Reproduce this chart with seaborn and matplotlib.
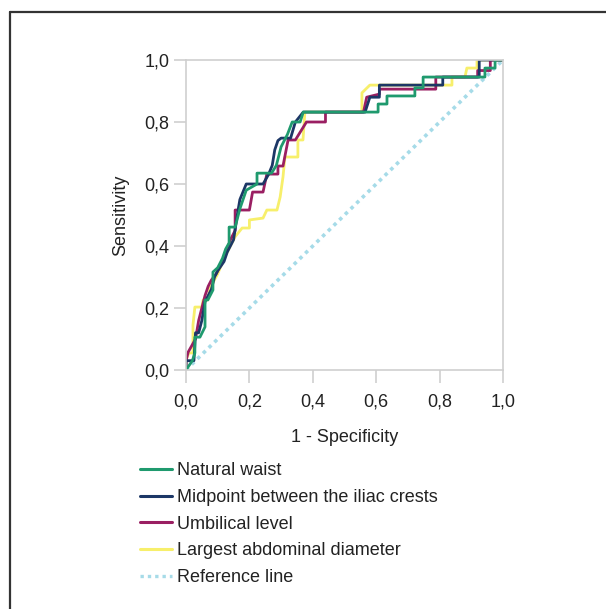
import matplotlib
matplotlib.use("Agg")
import matplotlib.pyplot as plt
import seaborn as sns
import pandas as pd
from matplotlib.lines import Line2D

# ---- data ----
natural_fpr = [0.0, 0.02, 0.028, 0.028, 0.044, 0.06, 0.06, 0.069, 0.085, 0.085, 0.10, 0.115, 0.125, 0.136, 0.136, 0.155, 0.17, 0.19, 0.224, 0.224, 0.27, 0.285, 0.30, 0.32, 0.335, 0.36, 0.37, 0.59, 0.606, 0.606, 0.634, 0.634, 0.722, 0.722, 0.748, 0.748, 0.943, 0.943, 0.975, 0.975, 1.0]
natural_tpr = [0.0, 0.03, 0.055, 0.106, 0.106, 0.139, 0.226, 0.226, 0.258, 0.316, 0.33, 0.36, 0.39, 0.41, 0.461, 0.461, 0.52, 0.58, 0.60, 0.635, 0.635, 0.66, 0.72, 0.76, 0.80, 0.80, 0.832, 0.832, 0.832, 0.858, 0.858, 0.884, 0.884, 0.91, 0.91, 0.945, 0.945, 0.974, 0.974, 1.0, 1.0]

midpoint_fpr = [0.0, 0.0, 0.025, 0.03, 0.04, 0.05, 0.06, 0.08, 0.09, 0.10, 0.12, 0.13, 0.15, 0.165, 0.17, 0.19, 0.243, 0.26, 0.272, 0.28, 0.29, 0.30, 0.33, 0.345, 0.37, 0.565, 0.58, 0.61, 0.61, 0.81, 0.81, 0.925, 0.925, 1.0]
midpoint_tpr = [0.0, 0.03, 0.03, 0.12, 0.12, 0.16, 0.22, 0.26, 0.30, 0.32, 0.35, 0.38, 0.42, 0.52, 0.55, 0.60, 0.60, 0.63, 0.66, 0.71, 0.74, 0.748, 0.748, 0.80, 0.832, 0.832, 0.88, 0.88, 0.919, 0.919, 0.945, 0.945, 1.0, 1.0]

umbilical_fpr = [0.0, 0.0, 0.007, 0.03, 0.04, 0.05, 0.06, 0.07, 0.08, 0.095, 0.105, 0.12, 0.13, 0.14, 0.155, 0.155, 0.20, 0.21, 0.243, 0.255, 0.29, 0.29, 0.306, 0.322, 0.345, 0.38, 0.44, 0.44, 0.56, 0.57, 0.61, 0.61, 0.788, 0.788, 0.88, 0.92, 0.92, 0.96, 0.96, 1.0]
umbilical_tpr = [0.0, 0.03, 0.058, 0.10, 0.16, 0.20, 0.24, 0.27, 0.29, 0.31, 0.33, 0.36, 0.39, 0.42, 0.45, 0.516, 0.516, 0.574, 0.574, 0.632, 0.632, 0.658, 0.658, 0.742, 0.742, 0.80, 0.80, 0.832, 0.832, 0.88, 0.89, 0.906, 0.906, 0.945, 0.945, 0.945, 0.966, 0.966, 1.0, 1.0]

largest_fpr = [0.0, 0.0, 0.009, 0.022, 0.022, 0.028, 0.05, 0.054, 0.069, 0.076, 0.10, 0.12, 0.155, 0.177, 0.20, 0.20, 0.243, 0.255, 0.287, 0.297, 0.306, 0.312, 0.353, 0.353, 0.369, 0.375, 0.555, 0.555, 0.58, 0.839, 0.839, 0.88, 0.886, 0.918, 0.918, 1.0]
largest_tpr = [0.0, 0.032, 0.055, 0.055, 0.145, 0.203, 0.203, 0.226, 0.226, 0.265, 0.31, 0.36, 0.43, 0.458, 0.458, 0.484, 0.49, 0.516, 0.516, 0.558, 0.623, 0.687, 0.687, 0.742, 0.742, 0.832, 0.832, 0.894, 0.919, 0.919, 0.945, 0.945, 0.974, 0.974, 1.0, 1.0]

reference_fpr = [0.0, 1.0]
reference_tpr = [0.0, 1.0]

series_names = ["Natural waist", "Midpoint between the iliac crests",
                "Umbilical level", "Largest abdominal diameter", "Reference line"]
colors = ["#1f9a6e", "#1c3766", "#9a1f62", "#f7ef6b", "#a6dbe8"]

tick_values = [0.0, 0.2, 0.4, 0.6, 0.8, 1.0]
tick_labels = ["0,0", "0,2", "0,4", "0,6", "0,8", "1,0"]

# ---- build long table ----
frames = []
for name, fx, fy in zip(series_names,
                        [natural_fpr, midpoint_fpr, umbilical_fpr, largest_fpr, reference_fpr],
                        [natural_tpr, midpoint_tpr, umbilical_tpr, largest_tpr, reference_tpr]):
    frames.append(pd.DataFrame({"fpr": fx, "tpr": fy, "series": name,
                                "order": range(len(fx))}))
df = pd.concat(frames, ignore_index=True)

sns.set_theme(style="white")
plt.rcParams["font.family"] = ["Liberation Sans", "DejaVu Sans"]

fig = plt.figure(figsize=(6.06, 6.09), dpi=100)
ax = fig.add_axes([186/606, 1-370/609, (503-186)/606, (370-60)/609])

# reference first (drawn beneath)
ref = df[df.series == "Reference line"]
sns.lineplot(data=ref, x="fpr", y="tpr", ax=ax, color=colors[4], lw=2.6,
             linestyle=(0, (1, 1.2)), sort=False, estimator=None, legend=False)
for name, col in zip(series_names[3::-1], colors[3::-1]):
    sub = df[df.series == name]
    sns.lineplot(data=sub, x="fpr", y="tpr", ax=ax, color=col, lw=2.0,
                 sort=False, estimator=None, legend=False)

ax.set_xlim(0, 1)
ax.set_ylim(0, 1)
ax.set_xticks(tick_values)
ax.set_xticklabels(tick_labels)
ax.set_yticks(tick_values)
ax.set_yticklabels(tick_labels)
for s in ax.spines.values():
    s.set_color("#cfcfcf")
    s.set_linewidth(1.2)
ax.tick_params(axis="both", which="major", length=9, width=1.2, color="#cfcfcf",
               labelsize=13, labelcolor="#222222", direction="out",
               bottom=True, left=True)
ax.tick_params(axis="x", pad=8)
ax.tick_params(axis="y", pad=3)
ax.set_xlabel("1 - Specificity", fontsize=13, color="#222222", labelpad=13)
ax.set_ylabel("Sensitivity", fontsize=13, color="#222222", labelpad=11)

handles = [Line2D([0], [0], color=c, lw=2.2) for c in colors[:4]]
handles.append(Line2D([0], [0], color=colors[4], lw=2.4, linestyle=(0, (1, 1.2))))
leg = fig.legend(handles, series_names, loc="upper left",
                 bbox_to_anchor=(133/606, 1-455/609), frameon=False,
                 fontsize=13, handlelength=1.75, handletextpad=0.3,
                 labelspacing=0.54, borderaxespad=0)
for t in leg.get_texts():
    t.set_color("#222222")

# partial figure border (top and left)
bx = 10/606
by = 1-12/609
fig.add_artist(Line2D([bx, bx], [0, by], transform=fig.transFigure, color="#333333", lw=1.6))
fig.add_artist(Line2D([bx, 1], [by, by], transform=fig.transFigure, color="#333333", lw=1.6))

fig.savefig("out.png", dpi=100)
